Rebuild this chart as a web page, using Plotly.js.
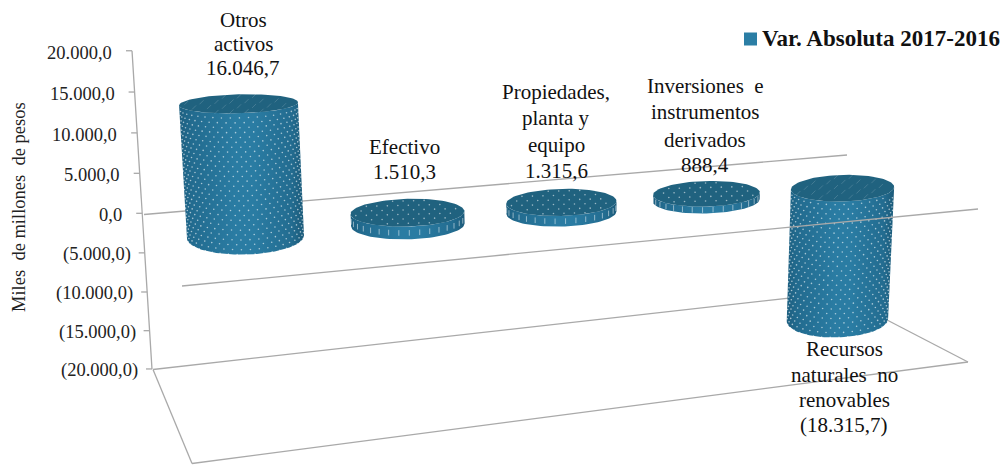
<!DOCTYPE html>
<html><head><meta charset="utf-8">
<script src="https://cdn.plot.ly/plotly-3.0.1.min.js"></script>
<style>html,body{margin:0;padding:0;background:#fff}#c{width:1003px;height:465px}</style>
</head><body><div id="c"></div>
<script>
const categories = ["Otros<br>activos","Efectivo","Propiedades,<br>planta y<br>equipo","Inversiones  e<br>instrumentos<br>derivados","Recursos<br>naturales  no<br>renovables"];
const values = [16046.7,1510.3,1315.6,888.4,-18315.7];
const axisTicks = [20000,15000,10000,5000,0,-5000,-10000,-15000,-20000];
const seriesName = "Var. Absoluta 2017-2016";
const axisTitle = "Miles  de millones  de pesos";

const SERIF = "Liberation Serif, Times New Roman, serif";
const GRID = "#a9a9a9";
const W = 1003, H = 465;

// vertical scale of the value axis (slight perspective)
const warp = v => { const t = v/20000; return v + 434*t*t; };
const y0Pix = 213.3, pxPerUnit = 0.007955;
const yFromPix = p => (y0Pix - p)/pxPerUnit;
const axisX = p => 132 + 20*(p-50.7)/318.3;
const pixOfTick = v => y0Pix - warp(v)*pxPerUnit;

// oblique projection of a bar's axis: category index + value -> picture
const RY0 = [17.5,14.5,14,13,13.3];
const cx0 = i => 245.5 + 166.7*i - 4.36*i*i;
const cy0 = i => 237 - 12.2*i;
const sc  = i => 0.0083 - 0.000275*i;
const lean= i => -0.000436 + 0.000179*i;
const rxAt= (i,v) => (58.5-1.72*i)*(1+v*1e-6);
const ryAt= (i,v) => RY0[i] - (0.0005-0.00007*i)*v;
const cxAt= (i,v) => cx0(i) + lean(i)*v;
const cyAt= (i,v) => cy0(i) - sc(i)*v;
const TILT = -0.025;
const ptOn = (i,v,th) => {          // th=0 front, +/-pi/2 sides
  const dx = rxAt(i,v)*Math.sin(th);
  return [cxAt(i,v)+dx, cyAt(i,v)+ryAt(i,v)*Math.cos(th)+TILT*dx];
};

const fmt = v => {
  const s = Math.abs(v).toFixed(1).replace(".",",").replace(/\B(?=(\d{3})+(?!\d))/g,".");
  return v<0 ? "("+s+")" : s;
};

const traces = [];
const line = (x0,p0,x1,p1,w) => ({type:"scatter",mode:"lines",x:[x0,x1],y:[yFromPix(p0),yFromPix(p1)],
  line:{color:GRID,width:w||1.3},hoverinfo:"skip",showlegend:false});

// frame behind the bars
traces.push(line(axisX(50.7),50.7,axisX(369),369));
axisTicks.forEach(v=>{const p=pixOfTick(v);traces.push(line(axisX(p)-6,p,axisX(p),p));});
traces.push(line(144,214.5,847,155));          // back edge at zero
traces.push(line(153,369.5,835,293));          // floor back
traces.push(line(835,293,968,362));            // floor right
traces.push(line(968,362,192,463.5));          // floor front
traces.push(line(153,369.5,192,463.5));        // floor left

const N = 48;
values.forEach((val,i)=>{
  const top = Math.max(val,0), bot = Math.min(val,0);
  // side silhouette
  const sx=[],sy=[];
  for(let k=0;k<=N;k++){const th=Math.PI/2-Math.PI*k/N;const p=ptOn(i,bot,th);sx.push(p[0]);sy.push(yFromPix(p[1]));}
  for(let k=0;k<=N;k++){const th=-Math.PI/2+Math.PI*k/N;const p=ptOn(i,top,th);sx.push(p[0]);sy.push(yFromPix(p[1]));}
  sx.push(sx[0]);sy.push(sy[0]);
  traces.push({type:"scatter",mode:"lines",x:sx,y:sy,fill:"toself",line:{width:0,color:"#26739a"},
    fillgradient:{type:"horizontal",colorscale:[[0,"#1d5f80"],[0.1,"#226b8f"],[0.45,"#2a7ca3"],[0.6,"#2a7ca3"],[0.9,"#236c90"],[1,"#1b5a79"]]},
    hoverinfo:"skip",showlegend:false,name:categories[i],customdata:[val]});
  // top face
  const tx=[],ty=[];
  for(let k=0;k<=2*N;k++){const th=Math.PI*k/N;const p=ptOn(i,top,th);tx.push(p[0]);ty.push(yFromPix(p[1]));}
  traces.push({type:"scatter",mode:"lines",x:tx,y:ty,fill:"toself",fillcolor:"#20627f",line:{width:0,color:"#20627f"},hoverinfo:"skip",showlegend:false});

  // dotted texture on the side
  const tall = (top-bot)*sc(i) > 40;
  const dx=[],dy=[];
  if(tall){
    const dth=9/rxAt(i,0), dv=4.6/sc(i);
    let j=0;
    for(let vv=bot-dv*3;vv<top;vv+=dv,j++){
      for(let th=-1.45+(j%2)*dth/2;th<1.5;th+=dth){
        if(vv<bot) continue;
        const p=ptOn(i,vv,th);
        const topFront=cyAt(i,top)+ryAt(i,top)*Math.cos(th);
        if(p[1]<topFront+2) continue;
        dx.push(p[0]);dy.push(yFromPix(p[1]));
      }
    }
    traces.push({type:"scatter",mode:"markers",x:dx,y:dy,marker:{size:1.6,color:"rgba(255,255,255,0.6)",line:{width:0}},hoverinfo:"skip",showlegend:false});
  }else{
    const dth=10.5/rxAt(i,0);
    for(let th=-1.45;th<1.5;th+=dth){const p=ptOn(i,(top+bot)/2,th);dx.push(p[0]);dy.push(yFromPix(p[1]));}
    traces.push({type:"scatter",mode:"markers",x:dx,y:dy,marker:{symbol:"line-ns-open",size:4,color:"rgba(255,255,255,0.5)",line:{width:1,color:"rgba(255,255,255,0.5)"}},hoverinfo:"skip",showlegend:false});
  }
  // texture on the top face
  const fx=[],fy=[];
  const rx=rxAt(i,top), ry=ryAt(i,top), cx=cxAt(i,top), cy=cyAt(i,top);
  const stepX=tall?15:10.5, stepY=tall?5:4.5;
  let row=0;
  for(let yy=-ry+2;yy<ry-1;yy+=stepY,row++){
    for(let xx=-rx+(row%2)*stepX/2;xx<rx;xx+=stepX){
      if((xx*xx)/(rx*rx)+(yy*yy)/(ry*ry)>0.85) continue;
      fx.push(cx+xx);fy.push(yFromPix(cy+yy+TILT*xx));
    }
  }
  traces.push({type:"scatter",mode:"markers",x:fx,y:fy,
    marker:tall?{symbol:"line-ne-open",size:4,color:"rgba(255,255,255,0.16)",line:{width:1,color:"rgba(255,255,255,0.16)"}}
               :{size:1.6,color:"rgba(255,255,255,0.55)",line:{width:0}},hoverinfo:"skip",showlegend:false});
});

// front edge at zero passes over the last bar
traces.push(line(182,286,978,209));

// legend swatch
traces.push({type:"scatter",mode:"markers",x:[750.5],y:[yFromPix(39)],marker:{symbol:"square",size:13,color:"#2b7ea5",line:{width:0}},hoverinfo:"skip",showlegend:false,name:seriesName});

const ann = [];
// tick labels
axisTicks.forEach(v=>{
  const p=pixOfTick(v);
  ann.push({xref:"x",yref:"y",x:axisX(p)-6-(v<0?6:12),y:yFromPix(p+2),text:fmt(v),showarrow:false,xanchor:"right",yanchor:"middle",
    font:{family:SERIF,size:18.5,color:"#222"}});
});
// axis title
ann.push({xref:"x",yref:"y",x:19,y:yFromPix(207),text:axisTitle,showarrow:false,textangle:-90,xanchor:"center",yanchor:"middle",
  font:{family:SERIF,size:18.5,color:"#222"}});
// data labels, one annotation per line
const labelX=[243,404,556,705,844];
const labelLineY=[[20,44,68],[147,172],[92,118,145,171],[86,112,140,165],[349,375,400,425]];
values.forEach((v,i)=>{
  const lines=categories[i].split("<br>").concat([fmt(v)]);
  lines.forEach((t,k)=>ann.push({xref:"x",yref:"y",x:labelX[i],y:yFromPix(labelLineY[i][k]),yanchor:"middle",xanchor:"center",showarrow:false,
    text:t,font:{family:SERIF,size:21,color:"#111"}}));
});
// legend text
ann.push({xref:"x",yref:"y",x:760,y:yFromPix(38),xanchor:"left",yanchor:"middle",showarrow:false,text:"<b>"+seriesName+"</b>",
  font:{family:SERIF,size:23,color:"#111"}});

Plotly.newPlot("c",traces,{
  width:W,height:H,margin:{l:0,r:0,t:0,b:0},paper_bgcolor:"#fff",plot_bgcolor:"#fff",showlegend:false,
  xaxis:{range:[0,W],visible:false,fixedrange:true},
  yaxis:{range:[yFromPix(H),yFromPix(0)],visible:false,fixedrange:true},
  annotations:ann
},{displayModeBar:false,staticPlot:true});
</script></body></html>
